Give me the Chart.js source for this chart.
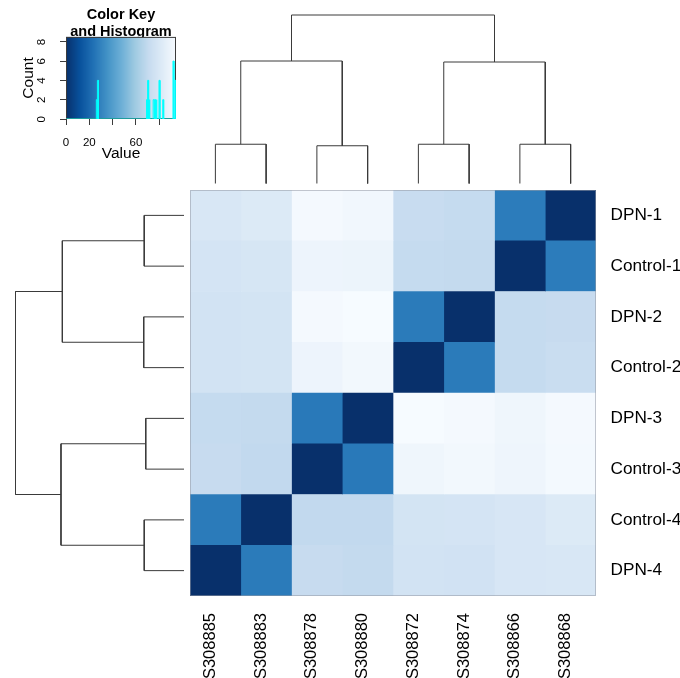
<!DOCTYPE html>
<html>
<head>
<meta charset="utf-8">
<script src="https://cdn.jsdelivr.net/npm/chart.js@4.4.1/dist/chart.umd.min.js"></script>
<style>
  html, body { margin: 0; padding: 0; background: #fff; overflow: hidden; }
  #wrap { position: relative; width: 680px; height: 678px; }
  #wrap canvas { position: absolute; left: 0; top: 0; }
</style>
</head>
<body>
<div id="wrap">
  <canvas id="heat" width="680" height="678"></canvas>
  <canvas id="colTree" width="680" height="678"></canvas>
  <canvas id="rowTree" width="680" height="678"></canvas>
  <canvas id="key" width="680" height="678"></canvas>
</div>
<script>
// ---- data -------------------------------------------------------------
const rowLabels = ['DPN-1', 'Control-1', 'DPN-2', 'Control-2', 'DPN-3', 'Control-3', 'Control-4', 'DPN-4'];
const colLabels = ['S308885', 'S308883', 'S308878', 'S308880', 'S308872', 'S308874', 'S308866', 'S308868'];

// distance values, one row per sample (rows top to bottom, columns left to right)
const rowDPN1     = [79.5, 81.5, 93.0, 91.5, 71.5, 70.5, 27.5,  0.0];
const rowControl1 = [77.5, 78.5, 89.5, 89.0, 70.5, 70.0,  0.0, 27.5];
const rowDPN2     = [76.5, 77.0, 93.0, 94.0, 27.0,  0.0, 70.5, 71.0];
const rowControl2 = [76.5, 77.0, 89.5, 92.0,  0.0, 27.0, 70.5, 72.0];
const rowDPN3     = [70.5, 70.0, 26.5,  0.0, 94.0, 93.0, 90.5, 93.0];
const rowControl3 = [71.0, 69.5,  0.0, 26.5, 90.5, 92.0, 90.0, 92.5];
const rowControl4 = [27.0,  0.0, 69.5, 69.5, 77.0, 77.5, 79.0, 81.5];
const rowDPN4     = [ 0.0, 27.0, 71.0, 70.0, 76.5, 76.0, 79.0, 79.5];
const values = [rowDPN1, rowControl1, rowDPN2, rowControl2, rowDPN3, rowControl3, rowControl4, rowDPN4];

// hierarchical clustering (hclust style: negative = leaf in display order, positive = earlier merge)
const colMerge   = [[-1, -2], [-3, -4], [-5, -6], [-7, -8], [1, 2], [3, 4], [5, 6]];
const colHeights = [23.3, 22.4, 23.3, 23.3, 72.7, 72.1, 100];
const rowMerge   = [[-1, -2], [-3, -4], [-5, -6], [-7, -8], [1, 2], [3, 4], [5, 6]];
const rowHeights = [23.6, 23.9, 22.7, 23.6, 72.2, 73.0, 100];

// colour key range and histogram of values
const keyMin = 0;
const keyMax = 94.3;
const keyXTicksShown = [0, 20, 60];
const histStarts = [26.0, 27.0, 69.0, 70.0, 71.2, 74.7, 75.9, 77.2, 79.7, 82.9, 91.7, 93.6];
const histCounts = [2, 4, 2, 4, 2, 2, 2, 2, 4, 2, 6, 4];
const histBinWidth = 0.8;

// ---- helpers ----------------------------------------------------------
const FONT = '"Liberation Sans", Arial, Helvetica, sans-serif';
Chart.defaults.font.family = FONT;
Chart.defaults.color = '#000';

const bluesStops = ['#08306b', '#08519c', '#2171b5', '#4292c6', '#6baed6', '#9ecae1', '#c6dbef', '#deebf7', '#f7fbff'];
const bluesRGB = bluesStops.map(h => [1, 3, 5].map(i => parseInt(h.substr(i, 2), 16)));
function blues(v) {
  const t = Math.min(1, Math.max(0, (v - keyMin) / (keyMax - keyMin))) * (bluesRGB.length - 1);
  const i = Math.min(bluesRGB.length - 2, Math.floor(t));
  const f = t - i;
  const c = bluesRGB[i].map((a, k) => Math.round(a + (bluesRGB[i + 1][k] - a) * f));
  return `rgb(${c[0]},${c[1]},${c[2]})`;
}

// U-shaped links for each merge; positions are leaf centres (0.5, 1.5, ...)
function dendroLinks(merge, heights, sideways) {
  const pos = [], hts = [], links = [];
  merge.forEach(([a, b], k) => {
    const pa = a < 0 ? -a - 0.5 : pos[a - 1];
    const ha = a < 0 ? 0 : hts[a - 1];
    const pb = b < 0 ? -b - 0.5 : pos[b - 1];
    const hb = b < 0 ? 0 : hts[b - 1];
    const h = heights[k];
    pos[k] = (pa + pb) / 2;
    hts[k] = h;
    const pts = [[pa, ha], [pa, h], [pb, h], [pb, hb]];
    links.push(pts.map(([p, v]) => sideways ? { x: v, y: p } : { x: p, y: v }));
  });
  return links;
}

const common = {
  responsive: false,
  animation: false,
  events: [],
  plugins: { legend: { display: false }, tooltip: { enabled: false } }
};

// ---- heatmap ----------------------------------------------------------
const heatFrame = {
  id: 'heatFrame',
  afterDatasetsDraw(chart) {
    const { left, top, width, height } = chart.chartArea;
    const ctx = chart.ctx;
    ctx.save();
    ctx.strokeStyle = 'rgba(150,155,165,0.55)';
    ctx.lineWidth = 1;
    ctx.strokeRect(left + 0.5, top + 0.5, width - 1, height - 1);
    ctx.restore();
  }
};

new Chart(document.getElementById('heat'), {
  type: 'bar',
  data: {
    labels: rowLabels,
    datasets: colLabels.map((name, j) => ({
      label: name,
      data: rowLabels.map(() => [j, j + 1]),
      backgroundColor: rowLabels.map((r, i) => blues(values[i][j])),
      borderWidth: 0,
      categoryPercentage: 1,
      barPercentage: 1,
      grouped: false,
      xAxisID: 'x',
      yAxisID: 'y'
    }))
  },
  options: {
    ...common,
    indexAxis: 'y',
    layout: { padding: { left: 190, top: 190, right: 0, bottom: 0 } },
    scales: {
      x: { type: 'linear', min: 0, max: 8, display: false },
      xCols: {
        type: 'category',
        axis: 'x',
        labels: colLabels,
        position: 'bottom',
        offset: true,
        grid: { display: false, drawTicks: false },
        border: { display: false },
        ticks: {
          autoSkip: false, minRotation: 90, maxRotation: 90,
          padding: 17, labelOffset: -5,
          color: '#000', font: { size: 16.5 }
        },
        afterFit(s) { s.height = 82; }
      },
      y: {
        type: 'category',
        position: 'right',
        offset: true,
        grid: { display: false, drawTicks: false },
        border: { display: false },
        ticks: { padding: 14.5, color: '#000', font: { size: 17.2 } },
        afterFit(s) { s.width = 84; }
      }
    }
  },
  plugins: [heatFrame]
});

// ---- dendrograms ------------------------------------------------------
function treeDatasets(links) {
  return links.map(pts => ({
    data: pts,
    showLine: true,
    borderColor: '#3a3a3a',
    borderWidth: 1,
    pointRadius: 0,
    tension: 0,
    clip: false
  }));
}

new Chart(document.getElementById('colTree'), {
  type: 'scatter',
  data: { datasets: treeDatasets(dendroLinks(colMerge, colHeights, false)) },
  options: {
    ...common,
    layout: { padding: { left: 190, right: 84, top: 15, bottom: 494.5 } },
    scales: {
      x: { type: 'linear', min: 0, max: 8, display: false },
      y: { type: 'linear', min: 0, max: 100, display: false }
    }
  }
});

new Chart(document.getElementById('rowTree'), {
  type: 'scatter',
  data: { datasets: treeDatasets(dendroLinks(rowMerge, rowHeights, true)) },
  options: {
    ...common,
    layout: { padding: { left: 15.5, right: 496, top: 190, bottom: 82 } },
    scales: {
      x: { type: 'linear', min: 0, max: 100, reverse: true, display: false },
      y: { type: 'linear', min: 0, max: 8, reverse: true, display: false }
    }
  }
});

// ---- colour key with histogram ----------------------------------------
const histPoints = [{ x: keyMin, y: 0 }];
histStarts.forEach((s, i) => {
  histPoints.push({ x: s, y: 0 }, { x: s, y: histCounts[i] },
                  { x: s + histBinWidth, y: histCounts[i] }, { x: s + histBinWidth, y: 0 });
});
histPoints.push({ x: keyMax, y: 0 });

const keyBackground = {
  id: 'keyBackground',
  beforeDatasetsDraw(chart) {
    const { left, right, top, bottom } = chart.chartArea;
    const xs = chart.scales.x;
    const ctx = chart.ctx;
    ctx.save();
    for (let px = Math.floor(left); px < right; px++) {
      ctx.fillStyle = blues(xs.getValueForPixel(px + 0.5));
      ctx.fillRect(px, top, 1, bottom - top);
    }
    ctx.strokeStyle = '#3c3c3c';
    ctx.lineWidth = 1;
    ctx.strokeRect(left + 0.5, top + 0.5, right - left - 1, bottom - top - 1);
    ctx.restore();
  }
};

const keyAxisStyle = {
  grid: { drawOnChartArea: false, drawTicks: true, tickLength: 6, color: '#3c3c3c' },
  border: { display: false }
};

new Chart(document.getElementById('key'), {
  type: 'scatter',
  data: {
    datasets: [{
      data: histPoints,
      showLine: true,
      borderColor: '#00ffff',
      borderWidth: 1,
      pointRadius: 0,
      tension: 0
    }]
  },
  options: {
    ...common,
    layout: { padding: { left: 0, right: 504, top: 6, bottom: 513 } },
    plugins: {
      ...common.plugins,
      title: {
        display: true,
        fullSize: false,
        text: ['Color Key', 'and Histogram'],
        color: '#000',
        font: { size: 14.5, weight: 'bold', lineHeight: 1.19 },
        padding: { top: 0, bottom: -3.6 }
      }
    },
    scales: {
      x: {
        type: 'linear', min: keyMin, max: keyMax, position: 'bottom',
        ...keyAxisStyle,
        ticks: {
          stepSize: 20, includeBounds: false, maxRotation: 0, padding: 10.5,
          font: { size: 11.5 }, color: '#000',
          callback: v => keyXTicksShown.includes(v) ? String(v) : ''
        },
        title: { display: true, text: 'Value', color: '#000', font: { size: 15.5 }, padding: { top: 0, bottom: 1.5 } },
        afterFit(s) { s.height = 46; }
      },
      y: {
        type: 'linear', min: 0, max: 8.5, position: 'left',
        ...keyAxisStyle,
        ticks: {
          stepSize: 2, includeBounds: false, minRotation: 90, maxRotation: 90,
          padding: 18, labelOffset: -3, font: { size: 11.5 }, color: '#000'
        },
        title: { display: true, text: 'Count', color: '#000', font: { size: 15.5 }, padding: { top: 19.7, bottom: 0 } },
        afterFit(s) { s.width = 66; }
      }
    }
  },
  plugins: [keyBackground]
});
</script>
</body>
</html>
